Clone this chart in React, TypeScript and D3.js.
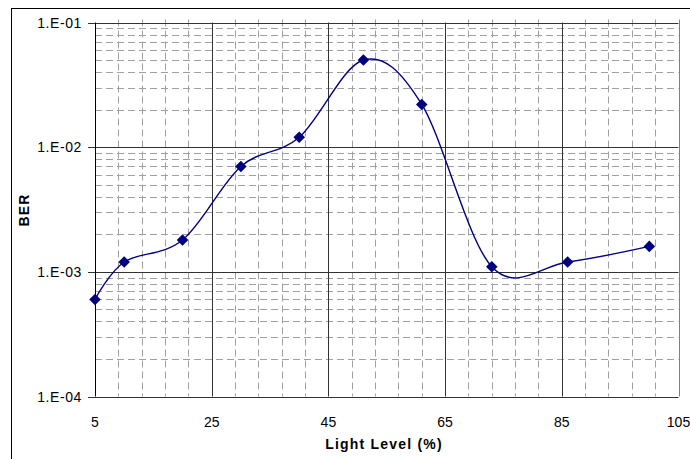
import React from "react";
import * as d3 from "d3";

const lightLevels = [5, 10, 20, 30, 40, 51, 61, 73, 86, 100];
const berValues = [6e-4, 1.2e-3, 1.8e-3, 7e-3, 1.2e-2, 5e-2, 2.2e-2, 1.1e-3, 1.2e-3, 1.6e-3];
const xTicks = [5, 25, 45, 65, 85, 105];
const yTicks = [1e-4, 1e-3, 1e-2, 1e-1];
const yTickLabels = ["1.E-04", "1.E-03", "1.E-02", "1.E-01"];

const W = 690, H = 459;
const L = 95, R = 678.5, T = 22.5, B = 396.5;

export default function App() {
  const x = d3.scaleLinear().domain([5, 105]).range([L, R]);
  const y = d3.scaleLog().domain([1e-4, 1e-1]).range([B, T]);

  const minorX: number[] = [];
  for (let v = 9; v < 105; v += 4) if (!xTicks.includes(v)) minorX.push(v);
  const minorY: number[] = [];
  for (let d = -4; d < -1; d++) for (let k = 2; k <= 9; k++) minorY.push(k * Math.pow(10, d));

  const line = d3
    .line<number>()
    .x((_, i) => x(lightLevels[i]))
    .y((v) => y(v))
    .curve(d3.curveCardinal.tension(0));

  const font = "Arimo, 'Liberation Sans', Arial, sans-serif";
  const diamond = d3.symbol().type(d3.symbolDiamond2).size(85)();

  return (
    <svg width={W} height={H} style={{ position: "absolute", left: 0, top: 0, background: "#fff" }}>
      <rect x={11.5} y={8.5} width={W} height={H} fill="#fff" stroke="#000" strokeWidth={1} />
      {/* minor gridlines */}
      {minorY.map((v) => (
        <line key={"my" + v} x1={L} x2={R} y1={Math.round(y(v)) + 0.5} y2={Math.round(y(v)) + 0.5}
          stroke="#a0a0a0" strokeWidth={1} strokeDasharray="7,4" />
      ))}
      {minorX.map((v) => (
        <line key={"mx" + v} x1={Math.round(x(v)) + 0.5} x2={Math.round(x(v)) + 0.5} y1={T - 3} y2={B}
          stroke="#a0a0a0" strokeWidth={1} strokeDasharray="7,4" />
      ))}
      {/* major gridlines */}
      {yTicks.map((v) => (
        <line key={"My" + v} x1={L - 7} x2={R} y1={Math.round(y(v)) + 0.5} y2={Math.round(y(v)) + 0.5}
          stroke="#333" strokeWidth={1} />
      ))}
      {xTicks.slice(1, -1).map((v) => (
        <line key={"Mx" + v} x1={Math.round(x(v)) + 0.5} x2={Math.round(x(v)) + 0.5} y1={T} y2={B}
          stroke="#333" strokeWidth={1} />
      ))}
      {/* plot frame */}
      <line x1={Math.round(R) + 0.5} x2={Math.round(R) + 0.5} y1={T - 3} y2={B} stroke="#808080" />
      <line x1={L + 0.5} x2={L + 0.5} y1={T} y2={B} stroke="#000" />
      {/* tick labels */}
      {yTicks.map((v, i) => (
        <text key={"yl" + v} x={82} y={y(v) + 5} textAnchor="end" fontFamily={font} fontSize={14}
          letterSpacing={0.6}>{yTickLabels[i]}</text>
      ))}
      {xTicks.map((v) => (
        <text key={"xl" + v} x={x(v)} y={427} textAnchor="middle" fontFamily={font} fontSize={14}>{v}</text>
      ))}
      <text x={384} y={449} textAnchor="middle" fontFamily={font} fontSize={14} fontWeight="bold"
        letterSpacing={1.2}>Light Level (%)</text>
      <text transform="translate(29,210) rotate(-90)" textAnchor="middle" fontFamily={font} fontSize={14}
        fontWeight="bold" letterSpacing={1.2}>BER</text>
      {/* series */}
      <path d={line(berValues) || ""} fill="none" stroke="#000080" strokeWidth={1.4} />
      {berValues.map((v, i) => (
        <path key={"pt" + i} d={diamond || ""} transform={`translate(${x(lightLevels[i])},${y(v)})`} fill="#000080" />
      ))}
    </svg>
  );
}
